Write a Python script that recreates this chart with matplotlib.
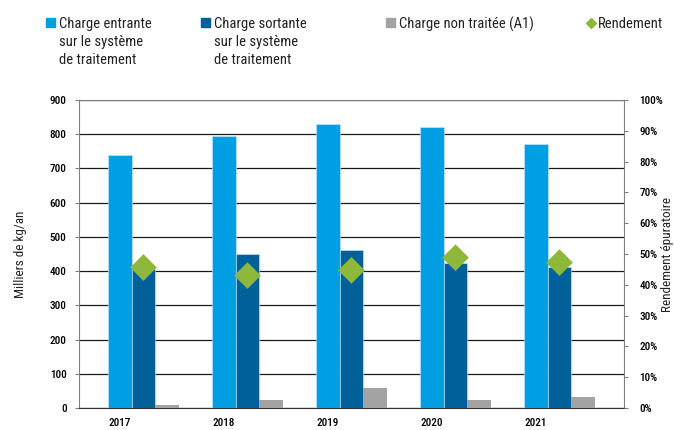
import matplotlib
matplotlib.use("Agg")
import matplotlib.pyplot as plt
import numpy as np
from matplotlib.patches import Rectangle
from matplotlib.lines import Line2D

plt.rcParams['font.family'] = ['Roboto Condensed', 'Liberation Sans Narrow', 'Roboto', 'DejaVu Sans']

years = ["2017", "2018", "2019", "2020", "2021"]
charge_entrante = [740, 794, 830, 822, 772]
charge_sortante = [405, 450, 462, 424, 412]
charge_non_traitee = [10, 24, 57, 24, 31]
rendement = [0.456, 0.430, 0.447, 0.488, 0.472]

c_in = "#009fe3"
c_out = "#00609a"
c_nt = "#a3a3a3"
c_rd = "#8db83a"

fig = plt.figure(figsize=(6.74, 4.30), dpi=100)
ax = fig.add_axes([79/674, 1-408/430, 545/674, 308/430])

x = np.arange(len(years))
w = 0.226
ax.bar(x, charge_entrante, w, color=c_in, edgecolor="#cfeaf7", linewidth=0.4, zorder=3)
ax.bar(x + w, charge_sortante, w, color=c_out, edgecolor="#cfeaf7", linewidth=0.4, zorder=3)
ax.bar(x + 2*w, charge_non_traitee, w, color=c_nt, zorder=3)

ax.set_xlim(-0.394, 4.846)
ax.set_ylim(0, 900)
ax.set_yticks(np.arange(0, 901, 100))
ax.set_xticks(x)
ax.set_xticklabels(years, fontsize=8, fontweight="medium")
ax.tick_params(axis='x', length=0, pad=7)
ax.tick_params(axis='y', labelsize=8, length=3, color="#808080", pad=6)
for t in ax.get_yticklabels():
    t.set_fontweight("medium")
ax.yaxis.grid(True, color="#1a1a1a", linewidth=0.9, zorder=1)
ax.set_axisbelow(True)
for s in ["left", "right", "top"]:
    ax.spines[s].set_color("#808080")
ax.spines["bottom"].set_color("#333333")
ax.set_ylabel("Milliers de kg/an", fontsize=9.5, labelpad=16, color="#222222")

ax2 = ax.twinx()
ax2.set_ylim(0, 1)
ax2.set_yticks(np.arange(0, 1.01, 0.1))
ax2.set_yticklabels([f"{int(round(v*100))}%" for v in np.arange(0, 1.01, 0.1)])
ax2.tick_params(axis='y', labelsize=8, length=3, color="#808080", pad=8)
for t in ax2.get_yticklabels():
    t.set_fontweight("medium")
ax2.scatter(x + w, rendement, marker="D", s=185, color=c_rd, edgecolor="none", zorder=5)
for s in ["left", "right", "top", "bottom"]:
    ax2.spines[s].set_visible(False)
fig.text(667/674, 1-254/430, "Rendement épuratoire", rotation=90, fontsize=9.5,
         ha="center", va="center", color="#222222")

# Legend
labels = ["Charge entrante\nsur le système\nde traitement",
          "Charge sortante\nsur le système\nde traitement",
          "Charge non traitée (A1)"]
cols = [c_in, c_out, c_nt]
sq_x = [46, 201, 386]
for lab, col, sx in zip(labels, cols, sq_x):
    fig.patches.append(Rectangle((sx/674, 1-26.5/430), 8.5/674, 8.5/430,
                                 transform=fig.transFigure, color=col, figure=fig))
    fig.text((sx+13)/674, 1-17/430, lab, fontsize=10.5, va="top", ha="left",
             linespacing=1.35, color="#222222")
fig.add_artist(Line2D([591/674], [1-22.5/430], marker="D", markersize=5,
                      color=c_rd, transform=fig.transFigure, linestyle="none"))
fig.text(598/674, 1-17/430, "Rendement", fontsize=10.5, va="top", ha="left", color="#222222")

fig.savefig("out.png", dpi=100)
